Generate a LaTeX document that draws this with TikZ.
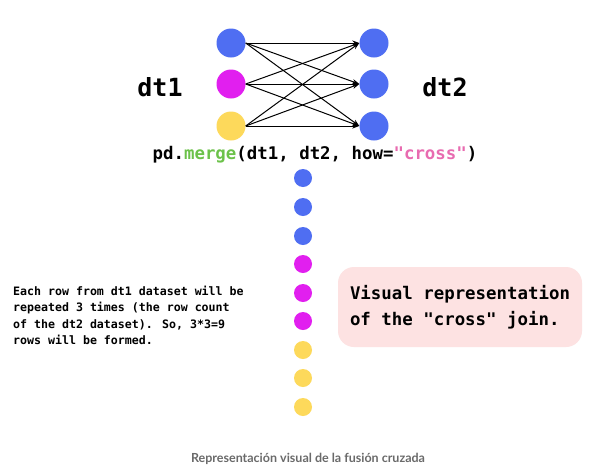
\documentclass[tikz,border=0pt]{standalone}
\usepackage{fontspec}
\setmainfont{DejaVu Sans}
\newfontfamily\codefont{DejaVu Sans Mono}
\newfontfamily\capfont{Lato}
\usetikzlibrary{arrows.meta}
\definecolor{cblue}{HTML}{4F6EF2}
\definecolor{cmag}{HTML}{E11FEF}
\definecolor{cyel}{HTML}{FDD95B}
\definecolor{cgreen}{HTML}{6CC24A}
\definecolor{cpink}{HTML}{E86BB0}
\definecolor{cboxbg}{HTML}{FDE2E2}
\definecolor{ccap}{HTML}{6A6A6A}
\begin{document}
\begin{tikzpicture}[x=1pt,y=-1pt,
  bigdot/.style={circle,inner sep=0pt,minimum size=29pt},
  smalldot/.style={circle,inner sep=0pt,minimum size=18pt},
  link/.style={-{Stealth[length=7pt,width=5pt]}, line width=1pt, black},
  codetxt/.style={font=\codefont\bfseries\fontsize{17.4}{26}\selectfont, inner sep=0pt}]
\useasboundingbox (0,0) rectangle (597,472);
\fill[white] (0,0) rectangle (597,472);

% left and right dots
\node[bigdot, fill=cblue] (l1) at (231,43) {};
\node[bigdot, fill=cmag]  (l2) at (231,84) {};
\node[bigdot, fill=cyel]  (l3) at (231,126) {};
\node[bigdot, fill=cblue] (r1) at (374,43) {};
\node[bigdot, fill=cblue] (r2) at (374,84) {};
\node[bigdot, fill=cblue] (r3) at (374,126) {};

\foreach \a in {1,2,3}{
  \foreach \b in {1,2,3}{
    \draw[link] (l\a.east) -- (r\b.west);
  }
}

\node[font=\codefont\bfseries\fontsize{25}{30}\selectfont] (t1) at (160,87) {dt1};
\node[font=\codefont\bfseries\fontsize{25}{30}\selectfont] (t2) at (445,87) {dt2};

\node[codetxt] (code) at (315,155) {pd.\textcolor{cgreen}{merge}(dt1, dt2, how=\textcolor{cpink}{"cross"})};

% column of result dots
\node[smalldot, fill=cblue] (d1) at (303,178) {};
\node[smalldot, fill=cblue] (d2) at (303,207) {};
\node[smalldot, fill=cblue] (d3) at (303,236) {};
\node[smalldot, fill=cmag]  (d4) at (303,264) {};
\node[smalldot, fill=cmag]  (d5) at (303,293) {};
\node[smalldot, fill=cmag]  (d6) at (303,321) {};
\node[smalldot, fill=cyel]  (d7) at (303,350) {};
\node[smalldot, fill=cyel]  (d8) at (303,378) {};
\node[smalldot, fill=cyel]  (d9) at (303,407) {};

% explanation text
\node[anchor=west, align=left, inner sep=0pt,
      font=\codefont\bfseries\fontsize{11.6}{16.3}\selectfont] (expl) at (13,315.5)
  {Each row from dt1 dataset will be\\repeated 3 times (the row count\\of the dt2 dataset). So, 3*3=9\\rows will be formed.};

% pink box
\node[fill=cboxbg, rounded corners=16pt, minimum width=244pt, minimum height=80pt, inner sep=0pt] (box) at (460,307) {};
\node[codetxt, align=left] (boxtxt) at (box.center) {Visual representation\\of the "cross" join.};

% caption
\node[font=\capfont\bfseries\fontsize{12.5}{15}\selectfont, text=ccap] (cap) at (308,459) {Representación visual de la fusión cruzada};
\end{tikzpicture}
\end{document}
